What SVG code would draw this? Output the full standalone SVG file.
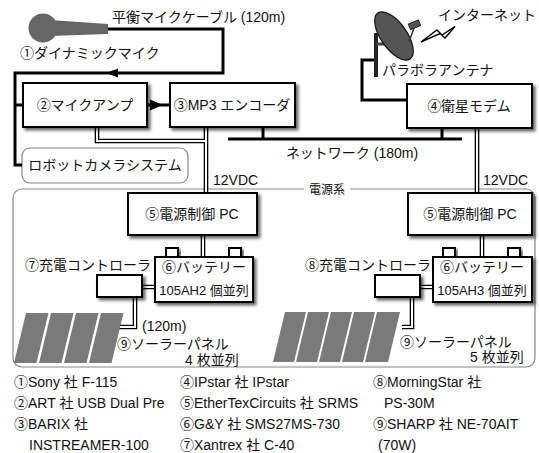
<svg xmlns="http://www.w3.org/2000/svg" width="539" height="453" viewBox="0 0 539 453">
  <style>
    text { font-family: "Liberation Sans", "Noto Sans CJK JP", sans-serif; font-size: 14px; fill: #111; }
    .mid { text-anchor: middle; }
    .sm { font-size: 13px; }
    .xs { font-size: 12px; }
    .box { fill: #fff; stroke: #000; stroke-width: 2; filter: url(#sh); }
    .wire { fill: none; stroke: #000; stroke-width: 3; }
    .cab-o { fill: none; stroke: #000; stroke-width: 4.6; }
    .cab-i { fill: none; stroke: #fff; stroke-width: 2; }
    .panel { fill: #7a7a7a; }
    .group { fill: #fff; stroke: #888; stroke-width: 1.2; }
  </style>
  <defs>
    <filter id="sh" x="-20%" y="-20%" width="140%" height="150%">
      <feDropShadow dx="2.5" dy="2.5" stdDeviation="1.6" flood-color="#000" flood-opacity="0.6"/>
    </filter>
  </defs>

  <!-- power system frame -->
  <g id="power-system">
    <rect class="group" x="13" y="189" width="522" height="178" rx="9"/>
    <rect x="304" y="182" width="46" height="14" fill="#fff"/>
    <text class="xs mid" x="327" y="194">電源系</text>
  </g>

  <!-- robot camera system -->
  <g id="robot-camera">
    <rect class="group" x="22" y="148" width="166" height="35" rx="8"/>
    <text class="mid" x="105" y="170">ロボットカメラシステム</text>
  </g>

  <!-- connectors -->
  <g id="connectors">
    <!-- balanced mic cable -->
    <path class="wire" d="M108 29 H223 V73 H15 V165 H22 M15 105 H23"/>
    <polygon points="106,73 118,68.5 118,77.5" fill="#000"/>
    <!-- amp to encoder -->
    <path class="wire" d="M147 105 H170"/>
    <polygon points="163,105 150,99.5 150,110.5" fill="#000"/>
    <!-- network -->
    <path class="wire" d="M228 139 H462 M263 127 V139 M442 128 V139"/>
    <!-- antenna cable -->
    <path class="wire" d="M376 60 H362 V100 H407" stroke-width="2.5"/>
    <!-- power cables (double lines) -->
    <path class="cab-o" d="M97 127 V141 H206 M206 127 V193 M477 128 V193 M203 235 V257 M482 235 V257 M142 287 H155 M135 297 V327 H118 M420 287 H433 M412 297 V327 H402"/>
    <path class="cab-i" d="M97 127 V141 H206 M206 127 V193 M477 128 V193 M203 235 V257 M482 235 V257 M142 287 H155 M135 297 V327 H118 M420 287 H433 M412 297 V327 H402"/>
  </g>

  <!-- microphone -->
  <g id="mic">
    <ellipse cx="43" cy="28" rx="14.5" ry="14.5" fill="#666"/>
    <polygon points="50,20 108,24 108,34 50,36" fill="#666"/>
    <text x="112" y="22">平衡マイクケーブル (120m)</text>
    <text x="20" y="58">①ダイナミックマイク</text>
  </g>

  <!-- parabolic antenna -->
  <g id="antenna">
    <line x1="376" y1="33" x2="376" y2="77" stroke="#222" stroke-width="4"/>
    <line x1="376" y1="44" x2="390" y2="44" stroke="#444" stroke-width="3"/>
    <ellipse cx="394" cy="36" rx="28" ry="13" transform="rotate(55 394 36)" fill="#555" stroke="#111" stroke-width="1.2"/>
    <line x1="414" y1="28" x2="409" y2="42" stroke="#333" stroke-width="1.5"/>
    <rect x="409" y="22" width="11" height="6" transform="rotate(-22 414 25)" fill="#555" stroke="#111" stroke-width="0.8"/>
    <polygon points="421,42 437,30 442,35 455,26.5 445,38 440,33.5" fill="#fff" stroke="#000" stroke-width="1.4" stroke-linejoin="miter"/>
    <text x="438" y="20">インターネット</text>
    <text x="382" y="75">パラボラアンテナ</text>
  </g>

  <!-- network label -->
  <text class="mid" x="352" y="158">ネットワーク (180m)</text>
  <text x="213" y="185">12VDC</text>
  <text x="483" y="185">12VDC</text>

  <!-- signal chain -->
  <g id="mic-amp">
    <rect class="box" x="23" y="83" width="124" height="44"/>
    <text class="mid" x="85" y="110">②マイクアンプ</text>
  </g>
  <g id="mp3-encoder">
    <rect class="box" x="170" y="83" width="125" height="44"/>
    <text class="mid" x="232" y="110">③MP3 エンコーダ</text>
  </g>
  <g id="modem">
    <rect class="box" x="407" y="84" width="125" height="44"/>
    <text class="mid" x="469" y="111">④衛星モデム</text>
  </g>

  <!-- left power unit -->
  <g id="pc-left">
    <rect class="box" x="128" y="193" width="129" height="42"/>
    <text class="mid" x="192" y="219">⑤電源制御 PC</text>
  </g>
  <g id="battery-left">
    <rect class="box" x="166" y="248" width="12" height="9"/>
    <rect class="box" x="229" y="248" width="12" height="9"/>
    <rect class="box" x="155" y="257" width="98" height="45"/>
    <text class="mid" x="204" y="272">⑥バッテリー</text>
    <text class="sm mid" x="204" y="295">105AH2 個並列</text>
  </g>
  <g id="controller-left">
    <rect class="box" x="97" y="275" width="45" height="22"/>
    <text x="25" y="270">⑦充電コントローラ</text>
  </g>
  <g id="solar-left">
    <polygon class="panel" points="26,313 48.5,313 36.5,363 14,363"/>
    <polygon class="panel" points="51,313 73.5,313 61.5,363 39,363"/>
    <polygon class="panel" points="76,313 98.5,313 86.5,363 64,363"/>
    <polygon class="panel" points="101,313 123.5,313 111.5,363 89,363"/>
    <text x="142" y="331">(120m)</text>
    <text x="117" y="349">⑨ソーラーパネル</text>
    <text x="185" y="365">4 枚並列</text>
  </g>

  <!-- right power unit -->
  <g id="pc-right">
    <rect class="box" x="408" y="193" width="124" height="42"/>
    <text class="mid" x="470" y="219">⑤電源制御 PC</text>
  </g>
  <g id="battery-right">
    <rect class="box" x="443" y="248" width="12" height="9"/>
    <rect class="box" x="508" y="248" width="12" height="9"/>
    <rect class="box" x="433" y="257" width="99" height="45"/>
    <text class="mid" x="482" y="272">⑥バッテリー</text>
    <text class="sm mid" x="482" y="295">105AH3 個並列</text>
  </g>
  <g id="controller-right">
    <rect class="box" x="375" y="275" width="45" height="22"/>
    <text x="305" y="270">⑧充電コントローラ</text>
  </g>
  <g id="solar-right">
    <polygon class="panel" points="285,312 306,312 294,362 273,362"/>
    <polygon class="panel" points="308,312 329,312 317,362 296,362"/>
    <polygon class="panel" points="331,312 352,312 340,362 319,362"/>
    <polygon class="panel" points="354,312 375,312 363,362 342,362"/>
    <polygon class="panel" points="377,312 400,312 388,362 365,362"/>
    <text x="400" y="347">⑨ソーラーパネル</text>
    <text x="470" y="362">5 枚並列</text>
  </g>

  <!-- equipment list -->
  <g id="legend">
    <text x="14" y="387">①Sony 社 F-115</text>
    <text x="14" y="408">②ART 社 USB Dual Pre</text>
    <text x="14" y="429">③BARIX 社</text>
    <text x="29" y="450">INSTREAMER-100</text>
    <text x="180" y="387">④IPstar 社 IPstar</text>
    <text x="180" y="408">⑤EtherTexCircuits 社 SRMS</text>
    <text x="180" y="429">⑥G&amp;Y 社 SMS27MS-730</text>
    <text x="180" y="450">⑦Xantrex 社 C-40</text>
    <text x="373" y="387">⑧MorningStar 社</text>
    <text x="384" y="408">PS-30M</text>
    <text x="373" y="429">⑨SHARP 社 NE-70AIT</text>
    <text x="378" y="450">(70W)</text>
  </g>
</svg>
